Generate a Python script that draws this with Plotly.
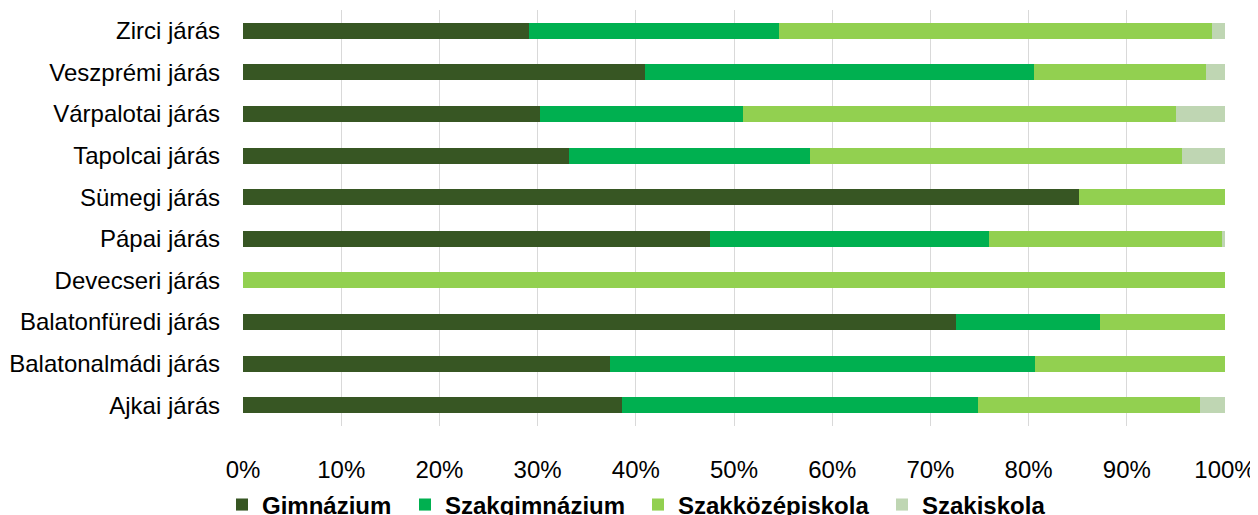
import plotly.graph_objects as go

categories = ["Ajkai járás", "Balatonalmádi járás", "Balatonfüredi járás", "Devecseri járás",
              "Pápai járás", "Sümegi járás", "Tapolcai járás", "Várpalotai járás",
              "Veszprémi járás", "Zirci járás"]

gimnazium       = [38.6, 37.4, 72.6, 0.0, 47.6, 85.1, 33.2, 30.2, 40.9, 29.1]
szakgimnazium   = [36.2, 43.3, 14.7, 0.0, 28.4, 0.0, 24.5, 20.7, 39.7, 25.5]
szakkozepiskola = [22.7, 19.3, 12.7, 100.0, 23.7, 14.9, 37.9, 44.1, 17.5, 44.1]
szakiskola      = [2.5, 0.0, 0.0, 0.0, 0.3, 0.0, 4.4, 5.0, 1.9, 1.3]

series = [
    ("Gimnázium", gimnazium, "#375623"),
    ("Szakgimnázium", szakgimnazium, "#00B050"),
    ("Szakközépiskola", szakkozepiskola, "#92D050"),
    ("Szakiskola", szakiskola, "#BFD6B3"),
]

# legend entry left edges (px from figure left)
legend_x_px = [214, 397, 630, 874]
legend_ids = ["legend", "legend2", "legend3", "legend4"]

FONT = "Liberation Sans, Arial, sans-serif"
SIZE = 24

fig = go.Figure()
for (name, vals, color), lid in zip(series, legend_ids):
    fig.add_trace(go.Bar(
        y=categories, x=[v / 100 for v in vals], name=name, orientation="h",
        marker=dict(color=color, line=dict(width=0)), legend=lid,
    ))

legend_common = dict(orientation="h", xref="container", yref="container",
                     xanchor="left", y=0.035, yanchor="middle",
                     font=dict(size=SIZE, family=FONT, weight="bold", color="#000000"),
                     itemwidth=30, bgcolor="rgba(0,0,0,0)")

fig.update_layout(
    barmode="stack",
    bargap=0.615,
    width=1258, height=515,
    margin=dict(l=235, r=41, t=2, b=97),
    plot_bgcolor="white", paper_bgcolor="white",
    font=dict(family=FONT, size=SIZE, color="#000000"),
    xaxis=dict(range=[0, 1], tickformat=".0%", dtick=0.1, showgrid=True,
               gridcolor="#D9D9D9", gridwidth=1, zeroline=False, automargin=False,
               ticks="", ticklabelstandoff=27, tickfont=dict(size=SIZE)),
    yaxis=dict(showgrid=False, ticks="", ticklabelstandoff=22, tickfont=dict(size=SIZE),
               automargin=False),
    showlegend=True,
)
for lid, px in zip(legend_ids, legend_x_px):
    fig.update_layout({lid: dict(legend_common, x=px / 1258)})

fig.write_html("out.html")
